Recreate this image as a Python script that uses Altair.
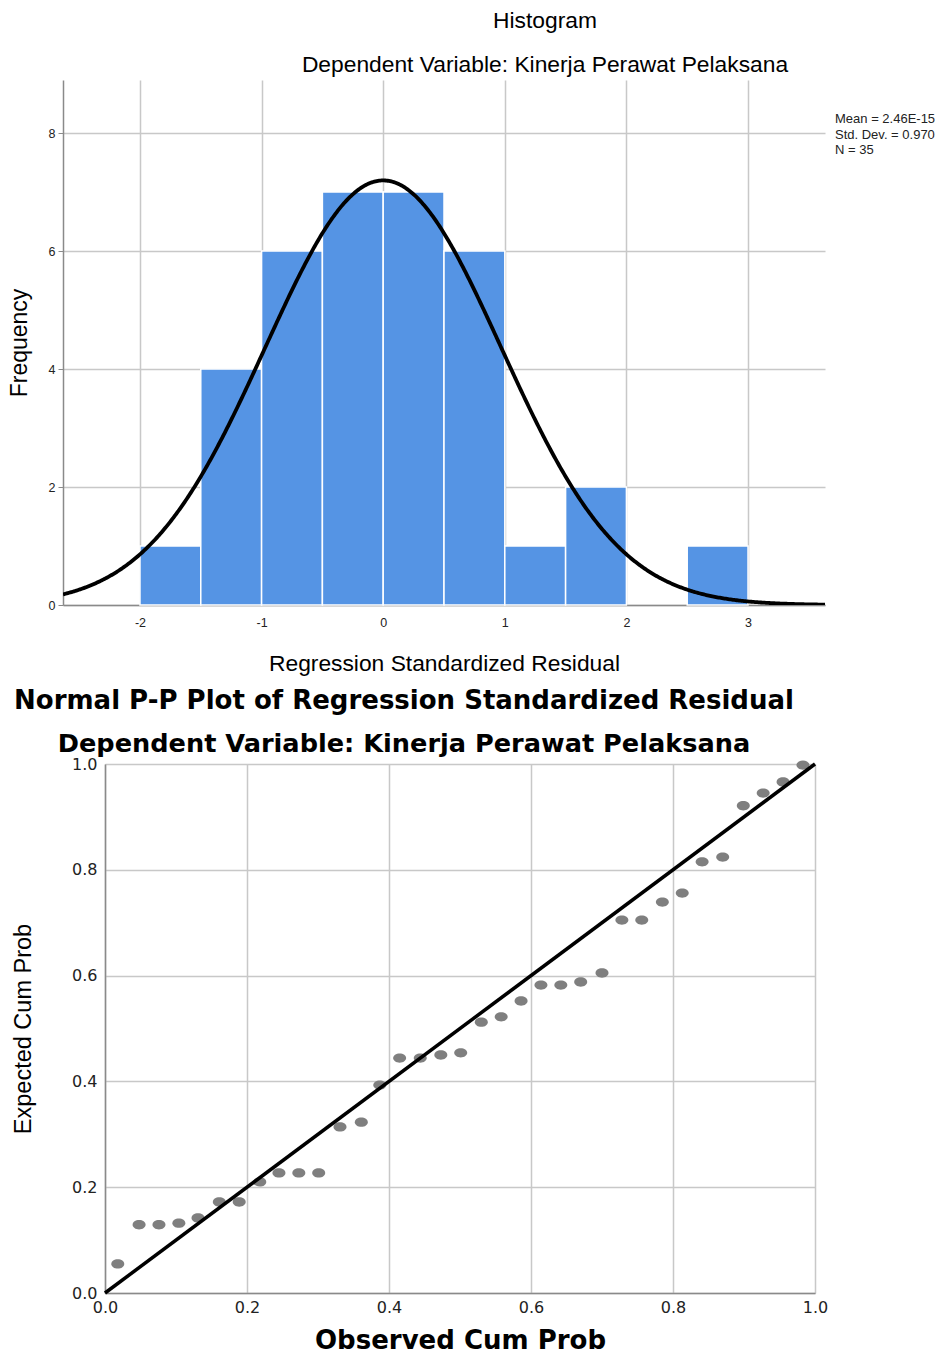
import altair as alt
import pandas as pd

# ---------------- Histogram data ----------------
bin_start = [-2.0, -1.5, -1.0, -0.5, 0.0, 0.5, 1.0, 1.5, 2.5]
bin_end = [-1.5, -1.0, -0.5, 0.0, 0.5, 1.0, 1.5, 2.0, 3.0]
frequency = [1, 4, 6, 7, 7, 6, 1, 2, 1]
hist_x_ticks = [-2, -1, 0, 1, 2, 3]
hist_y_ticks = [0, 2, 4, 6, 8]
resid_mean = 2.46e-15
resid_sd = 0.970
n_obs = 35
bin_width = 0.5
stats_lines = ["Mean = 2.46E-15", "Std. Dev. = 0.970", "N = 35"]

# ---------------- P-P plot data ----------------
observed_cum_prob = [0.018, 0.048, 0.076, 0.104, 0.131, 0.161, 0.189, 0.218, 0.245,
                     0.273, 0.301, 0.331, 0.361, 0.387, 0.415, 0.444, 0.473, 0.501,
                     0.530, 0.558, 0.586, 0.614, 0.642, 0.670, 0.700, 0.728, 0.756,
                     0.785, 0.813, 0.841, 0.870, 0.899, 0.927, 0.955, 0.983]
expected_cum_prob = [0.055, 0.129, 0.129, 0.132, 0.142, 0.172, 0.172, 0.210, 0.227,
                     0.227, 0.227, 0.314, 0.323, 0.393, 0.444, 0.444, 0.450, 0.454,
                     0.512, 0.522, 0.552, 0.582, 0.582, 0.588, 0.605, 0.705, 0.705,
                     0.739, 0.756, 0.815, 0.824, 0.921, 0.945, 0.966, 0.998]
diag_x = [0.0, 1.0]
diag_y = [0.0, 1.0]
pp_ticks = [0.0, 0.2, 0.4, 0.6, 0.8, 1.0]

SANS = "Liberation Sans"
WIDE = "DejaVu Sans"
GRID = "#c8c8c8"
DOMAIN = "#8a8a8a"

# ---------------- Histogram ----------------
hist_df = pd.DataFrame({"start": bin_start, "end": bin_end, "freq": frequency})
xs_h = alt.Scale(domain=[-2.633, 3.633], nice=False, zero=False)
ys_h = alt.Scale(domain=[0, 8.9], nice=False)

bars = alt.Chart(hist_df).mark_rect(color="#5594e4", stroke="white", strokeWidth=1.5).encode(
    x=alt.X("start:Q", scale=xs_h,
            axis=alt.Axis(values=hist_x_ticks, labelExpr="datum.value",
                          title="Regression Standardized Residual",
                          labelFont=SANS, labelFontSize=12.5, labelColor="#222222",
                          labelPadding=11, ticks=False, labelFlush=False,
                          domainColor=DOMAIN, domainWidth=1.5,
                          gridColor=GRID, gridWidth=1.5,
                          titleFont=SANS, titleFontSize=22.8, titleFontWeight="normal",
                          titleColor="black", titlePadding=24)),
    x2="end:Q",
    y=alt.Y("freq:Q", scale=ys_h,
            axis=alt.Axis(values=hist_y_ticks, labelExpr="datum.value", title="Frequency",
                          labelFont=SANS, labelFontSize=12.5, labelColor="#222222",
                          labelPadding=3, tickSize=5, tickColor=DOMAIN,
                          domainColor=DOMAIN, domainWidth=1.5,
                          gridColor=GRID, gridWidth=1.5,
                          titleFont=SANS, titleFontSize=23, titleFontWeight="normal",
                          titleColor="black", titlePadding=17)),
    y2=alt.datum(0),
)

curve = alt.Chart(alt.sequence(-2.633, 3.64, 0.01, as_="z")).transform_calculate(
    dens=f"{n_obs * bin_width} / ({resid_sd} * sqrt(2 * PI)) * exp(-0.5 * pow((datum.z - {resid_mean}) / {resid_sd}, 2))"
).mark_line(color="black", strokeWidth=3.8, clip=True).encode(
    x=alt.X("z:Q", scale=xs_h),
    y=alt.Y("dens:Q", scale=ys_h),
)

stats = alt.Chart(pd.DataFrame({"k": [0]})).mark_text(
    align="left", baseline="top", font=SANS, fontSize=13, lineHeight=15.5, color="#222222"
).encode(x=alt.value(772), y=alt.value(33), text=alt.value(stats_lines))

hist = alt.layer(bars, curve, stats).properties(
    width=762, height=525,
    title=alt.TitleParams("Histogram", subtitle="Dependent Variable: Kinerja Perawat Pelaksana",
                          font=SANS, fontSize=22.8, fontWeight="normal", color="black",
                          subtitleFont=SANS, subtitleFontSize=22.8, subtitleColor="black",
                          subtitlePadding=21, anchor="middle", dx=101, offset=3),
)

# ---------------- P-P plot ----------------
pp_df = pd.DataFrame({"obs": observed_cum_prob, "exp": expected_cum_prob})
diag_df = pd.DataFrame({"obs": diag_x, "exp": diag_y})
xs_p = alt.Scale(domain=[0, 1], nice=False)
ys_p = alt.Scale(domain=[0, 1], nice=False)

ellipse = "M -1 0 A 1 0.72 0 1 1 1 0 A 1 0.72 0 1 1 -1 0 Z"
points = alt.Chart(pp_df).mark_point(shape=ellipse, size=169, filled=True, color="#7f7f7f", opacity=1).encode(
    x=alt.X("obs:Q", scale=xs_p,
            axis=alt.Axis(values=pp_ticks, format=".1f", title="Observed Cum Prob",
                          labelFont=WIDE, labelFontSize=16, labelColor="#222222",
                          labelPadding=6, ticks=False, labelFlush=False,
                          domainColor=DOMAIN, domainWidth=1.5,
                          gridColor=GRID, gridWidth=1.5,
                          titleFont=WIDE, titleFontSize=26, titleFontWeight="bold",
                          titleColor="black", titlePadding=12)),
    y=alt.Y("exp:Q", scale=ys_p,
            axis=alt.Axis(values=pp_ticks, format=".1f", title="Expected Cum Prob",
                          labelFont=WIDE, labelFontSize=16, labelColor="#222222",
                          labelPadding=8, ticks=False, labelFlush=False,
                          domainColor=DOMAIN, domainWidth=1.5,
                          gridColor=GRID, gridWidth=1.5,
                          titleFont=SANS, titleFontSize=23.5, titleFontWeight="normal",
                          titleColor="black", titlePadding=36)),
)

diag = alt.Chart(diag_df).mark_line(color="black", strokeWidth=3.5).encode(
    x=alt.X("obs:Q", scale=xs_p), y=alt.Y("exp:Q", scale=ys_p)
)

pp = alt.layer(points, diag).properties(
    width=710, height=529,
    title=alt.TitleParams("Normal P-P Plot of Regression Standardized Residual",
                          subtitle="Dependent Variable: Kinerja Perawat Pelaksana",
                          font=WIDE, fontSize=26, fontWeight="bold", color="black",
                          subtitleFont=WIDE, subtitleFontSize=25.6, subtitleFontWeight="bold",
                          subtitleColor="black", subtitlePadding=18,
                          anchor="middle", dx=-56, offset=-2),
)

# spacer shifts the P-P plot area 42px right of the histogram's plot area
spacer = alt.Chart(pd.DataFrame({"k": [0]})).mark_point(opacity=0).encode(
    x=alt.X("k:Q", axis=None), y=alt.Y("k:Q", axis=None)
).properties(width=42, height=10)

row2 = alt.hconcat(spacer, pp, spacing=0, bounds="flush")

chart = alt.vconcat(hist, row2, spacing=159, bounds="flush").configure(
    padding={"left": 0, "top": 2, "right": 0, "bottom": 0}, background="white"
).configure_view(stroke=None)

chart.save("out.html", embed_options={"renderer": "svg", "actions": False})
